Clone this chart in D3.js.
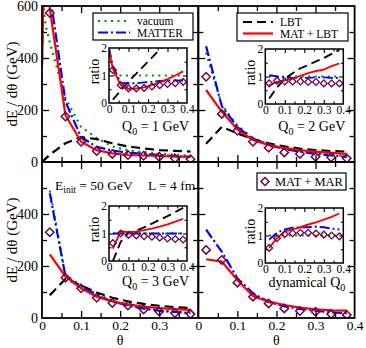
<!DOCTYPE html>
<html lang="en">
<head>
<meta charset="UTF-8">
<title>dE/dtheta with ratio insets</title>
<script src="https://cdn.jsdelivr.net/npm/d3@7"></script>
<style>
  body { margin: 0; background: #fff; }
  svg { display: block; }
  svg text { font-family: "Liberation Serif", "DejaVu Serif", serif !important; }
</style>
</head>
<body>
<svg id="chart" width="366" height="348"></svg>
<script>
// theta bins (centres) shared by every panel
const thetas = [0.02, 0.06, 0.10, 0.14, 0.18, 0.22, 0.26, 0.30, 0.34, 0.38];
// the Q0 = 1 GeV curves also have points right at small angle
const thetasNearZero = [0, 0.01];

// tick labels
const yTickLabelsTop = [0, 200, 400, 600];
const yTickLabelsBottom = [0, 200, 400];
const xTickLabelsLeft = [0, 0.1, 0.2, 0.3];
const xTickLabelsRight = [0, 0.1, 0.2, 0.3, 0.4];
const ratioTickLabels = [0, 1, 2];
const insetXTickLabels = [0, 0.1, 0.2, 0.3, 0.4];

// ---- Q0 = 1 GeV (top left)
const vacuum1 = [460, 245, 135, 92, 60, 45, 38, 33, 28, 24];
const matter1 = [650, 232, 96, 58, 44, 36, 31, 27, 23, 20];
const matLbt1 = [590, 180, 78, 45, 33, 27, 25, 23, 21, 20];
const lbt1 = [28, 72, 96, 88, 72, 60, 52, 46, 43, 40];
const matMar1 = [573, 175, 78, 42, 31, 27, 24, 20, 14, 11];
const vacuum1Near0 = [640, 520];
const matter1Near0 = [380, 1200];
const matLbt1Near0 = [370, 1100];
const lbt1Near0 = [0, 14];
const vacuumRatio1 = [1, 1, 1, 1, 1, 1, 1, 1, 1, 1];
const matterRatio1 = [1.35, 0.72, 0.72, 0.72, 0.75, 0.77, 0.8, 0.82, 0.82, 0.82];
const matLbtRatio1 = [1.25, 0.65, 0.52, 0.53, 0.57, 0.65, 0.75, 0.87, 1.0, 1.15];
const lbtRatio1 = [0.12, 0.45, 0.78, 1.07, 1.36, 1.65, 1.95, 2.25, 2.5, 2.8];
const matMarRatio1 = [1.2, 0.65, 0.53, 0.53, 0.55, 0.6, 0.65, 0.69, 0.72, 0.77];
const matterRatio1Near0 = [2.0];
const matLbtRatio1Near0 = [1.9];

// ---- Q0 = 2 GeV (top right)
const vacuum2 = [420, 220, 140, 92, 68, 52, 42, 34, 28, 22];
const matter2 = [445, 215, 135, 88, 65, 50, 40, 31, 25, 20];
const matLbt2 = [277, 194, 125, 85, 65, 54, 46, 40, 35, 31];
const lbt2 = [70, 135, 110, 88, 72, 60, 52, 46, 42, 40];
const matMar2 = [328, 185, 120, 78, 55, 37, 31, 20, 18, 14];
const vacuumRatio2 = [1, 1, 1, 1, 1, 1, 1, 1, 1, 1];
const matterRatio2 = [1.05, 1.0, 0.95, 0.95, 0.95, 0.95, 0.97, 0.97, 0.95, 0.95];
const matLbtRatio2 = [0.68, 0.8, 0.86, 0.93, 1.02, 1.12, 1.2, 1.25, 1.38, 1.48];
const lbtRatio2 = [0.2, 0.6, 0.92, 1.12, 1.3, 1.42, 1.55, 1.67, 1.82, 1.97];
const matMarRatio2 = [0.75, 0.85, 0.82, 0.82, 0.82, 0.8, 0.8, 0.75, 0.75, 0.75];

// ---- Q0 = 3 GeV (bottom left)
const vacuum3 = [490, 165, 125, 92, 66, 50, 38, 30, 24, 20];
const matter3 = [480, 160, 120, 88, 63, 48, 36, 28, 23, 19];
const matLbt3 = [245, 160, 114, 82, 64, 53, 44, 38, 34, 31];
const lbt3 = [88, 150, 125, 98, 78, 64, 54, 47, 42, 38];
const matMar3 = [330, 155, 114, 78, 58, 48, 33, 25, 19, 15];
const vacuumRatio3 = [1, 1, 1, 1, 1, 1, 1, 1, 1, 1];
const matterRatio3 = [1.0, 1.0, 1.0, 1.0, 1.0, 1.0, 1.0, 1.0, 1.0, 1.0];
const matLbtRatio3 = [0.45, 1.08, 1.05, 1.07, 1.12, 1.18, 1.25, 1.33, 1.43, 1.53];
const lbtRatio3 = [0.0, 0.7, 1.02, 1.1, 1.22, 1.36, 1.5, 1.63, 1.78, 1.93];
const matMarRatio3 = [0.65, 1.0, 0.95, 0.93, 0.9, 0.88, 0.85, 0.82, 0.8, 0.78];

// ---- dynamical Q0 (bottom right)
const matter4 = [340, 255, 153, 95, 62, 45, 35, 28, 22, 18];
const matLbt4 = [226, 217, 146, 84, 63, 50, 40, 33, 29, 28];
const matMar4 = [262, 223, 136, 82, 56, 37, 27, 24, 15, 12];
const vacuumRatio4 = [1, 1, 1, 1, 1, 1, 1, 1, 1, 1];
const matterRatio4 = [0.85, 1.1, 1.22, 1.28, 1.3, 1.3, 1.32, 1.3, 1.25, 1.22];
const matLbtRatio4 = [0.55, 0.9, 1.15, 1.22, 1.3, 1.4, 1.48, 1.58, 1.68, 1.8];
const matMarRatio4 = [0.55, 0.9, 1.05, 1.08, 1.1, 1.1, 1.07, 1.03, 1.0, 0.97];

// ---------------------------------------------------------------
const plotLeft = 42, plotTop = 6, panelW = 156.3, panelH = 156;
const insetDx = 67, insetW = 78, insetH = 55;
const marColor = "rgb(103,7,72)";

const styles = {
  vac:    { stroke: "#009000", width: 2.2, dash: "2,4.5" },
  mat:    { stroke: "#0000ff", width: 2.2, dash: "10,3,2,3" },
  lbt:    { stroke: "#000",    width: 2.2, dash: "9,5" },
  matlbt: { stroke: "#ff0000", width: 2.2, dash: null }
};
const drawOrder = ["vac", "lbt", "mat", "matlbt"];

const s = (key, xs, ys) => ({ key, pts: xs.map((t, i) => [t, ys[i]]) });

const panels = [
  { col: 0, row: 0, insetTop: 42, labelDy: 28,
    q0: ["Q", "0", " = 1 GeV"],
    lines: [s("vac", thetasNearZero.concat(thetas), vacuum1Near0.concat(vacuum1)),
            s("lbt", thetasNearZero.concat(thetas), lbt1Near0.concat(lbt1)),
            s("mat", thetasNearZero.concat(thetas), matter1Near0.concat(matter1)),
            s("matlbt", thetasNearZero.concat(thetas), matLbt1Near0.concat(matLbt1))],
    marks: matMar1,
    ratios: [s("vac", thetas, vacuumRatio1), s("lbt", thetas, lbtRatio1),
             s("mat", [0].concat(thetas), matterRatio1Near0.concat(matterRatio1)),
             s("matlbt", [0].concat(thetas), matLbtRatio1Near0.concat(matLbtRatio1))],
    ratioMarks: matMarRatio1 },
  { col: 1, row: 0, insetTop: 43, labelDy: 27,
    q0: ["Q", "0", " = 2 GeV"],
    lines: [s("vac", thetas, vacuum2), s("lbt", thetas, lbt2),
            s("mat", thetas, matter2), s("matlbt", thetas, matLbt2)],
    marks: matMar2,
    ratios: [s("vac", thetas, vacuumRatio2), s("lbt", thetas, lbtRatio2),
             s("mat", thetas, matterRatio2), s("matlbt", thetas, matLbtRatio2)],
    ratioMarks: matMarRatio2 },
  { col: 0, row: 1, insetTop: 44, labelDy: 25,
    q0: ["Q", "0", " = 3 GeV"],
    lines: [s("vac", thetas, vacuum3), s("lbt", thetas, lbt3),
            s("mat", thetas, matter3), s("matlbt", thetas, matLbt3)],
    marks: matMar3,
    ratios: [s("vac", thetas, vacuumRatio3), s("lbt", thetas, lbtRatio3),
             s("mat", thetas, matterRatio3), s("matlbt", thetas, matLbtRatio3)],
    ratioMarks: matMarRatio3 },
  { col: 1, row: 1, insetTop: 46, labelDy: 24,
    q0: ["dynamical Q", "0", ""],
    lines: [s("mat", thetas, matter4), s("matlbt", thetas, matLbt4)],
    marks: matMar4,
    ratios: [s("vac", thetas, vacuumRatio4),
             s("mat", thetas, matterRatio4), s("matlbt", thetas, matLbtRatio4)],
    ratioMarks: matMarRatio4 }
];

const svg = d3.select("#chart");
const defs = svg.append("defs");

function diamond(g, cx, cy, r, sw) {
  g.append("path")
    .attr("d", `M${cx},${cy - r}L${cx + r},${cy}L${cx},${cy + r}L${cx - r},${cy}Z`)
    .attr("fill", "none").attr("stroke", marColor).attr("stroke-width", sw);
}

// inward ticks through d3 axes
function ticks(g, axis, values, size, sw) {
  g.call(axis.tickValues(values).tickSize(-size).tickSizeOuter(0).tickFormat(""));
  g.select(".domain").remove();
  g.selectAll("line").attr("stroke", "#000").attr("stroke-width", sw);
}

function labels(g, axis, values, fmt, size, pad) {
  g.call(axis.tickValues(values).tickSize(0).tickPadding(pad).tickFormat(fmt));
  g.select(".domain").remove();
  g.selectAll("text").attr("font-size", size).attr("fill", "#000");
}

const fmtTheta = d => d === 0 ? "0" : d.toFixed(1);

function drawLines(g, data, x, y, scaleW) {
  const line = d3.line().x(d => x(d[0])).y(d => y(d[1]));
  drawOrder.forEach(k => {
    const ser = data.find(d => d.key === k);
    if (!ser) return;
    const st = styles[k];
    g.append("path").attr("d", line(ser.pts))
      .attr("fill", "none").attr("stroke", st.stroke)
      .attr("stroke-width", st.width * scaleW)
      .attr("stroke-dasharray", st.dash);
  });
}

panels.forEach((p, i) => {
  const x0 = plotLeft + p.col * panelW, y0 = plotTop + p.row * panelH;
  const x = d3.scaleLinear().domain([0, 0.4]).range([x0, x0 + panelW]);
  const y = d3.scaleLinear().domain([0, 600]).range([y0 + panelH, y0]);

  defs.append("clipPath").attr("id", "clip" + i).append("rect")
    .attr("x", x0).attr("y", y0).attr("width", panelW).attr("height", panelH);

  const body = svg.append("g").attr("clip-path", `url(#clip${i})`);
  drawLines(body, p.lines, x, y, 1);
  thetas.forEach((t, j) => diamond(body, x(t), y(p.marks[j]), 4.2, 1.5));

  // ticks on all four sides
  [[d3.axisBottom(x), `translate(0,${y0 + panelH})`], [d3.axisTop(x), `translate(0,${y0})`]].forEach(([ax, tr]) => {
    ticks(svg.append("g").attr("transform", tr), ax, [0.1, 0.2, 0.3], 7, 1.3);
    ticks(svg.append("g").attr("transform", tr), ax, [0.05, 0.15, 0.25, 0.35], 5, 1.3);
  });
  [[d3.axisLeft(y), `translate(${x0},0)`], [d3.axisRight(y), `translate(${x0 + panelW},0)`]].forEach(([ax, tr]) => {
    ticks(svg.append("g").attr("transform", tr), ax, [200, 400], 7, 1.3);
    ticks(svg.append("g").attr("transform", tr), ax, [100, 300, 500], 5, 1.3);
  });

  svg.append("rect").attr("x", x0).attr("y", y0).attr("width", panelW).attr("height", panelH)
    .attr("fill", "none").attr("stroke", "#000").attr("stroke-width", 1.8);

  if (p.col === 0) {
    labels(svg.append("g").attr("transform", `translate(${x0},0)`), d3.axisLeft(y),
      p.row === 0 ? yTickLabelsTop : yTickLabelsBottom, d3.format("d"), 14, 4);
    svg.append("text")
      .attr("transform", `translate(17,${y0 + panelH / 2}) rotate(-90)`)
      .attr("text-anchor", "middle").attr("font-size", 15)
      .text("dE / dθ (GeV)");
  }
  if (p.row === 1) {
    labels(svg.append("g").attr("transform", `translate(0,${y0 + panelH})`), d3.axisBottom(x),
      p.col === 0 ? xTickLabelsLeft : xTickLabelsRight, fmtTheta, 13.5, 2);
    svg.append("text").attr("x", x0 + panelW / 2).attr("y", 345)
      .attr("text-anchor", "middle").attr("font-size", 14).text("θ");
  }

  // ---- inset with ratios
  const ix0 = x0 + insetDx, iy0 = y0 + p.insetTop;
  const ix = d3.scaleLinear().domain([0, 0.4]).range([ix0, ix0 + insetW]);
  const iy = d3.scaleLinear().domain([0, 2]).range([iy0 + insetH, iy0]);

  svg.append("rect").attr("x", ix0).attr("y", iy0).attr("width", insetW).attr("height", insetH)
    .attr("fill", "#fff");
  defs.append("clipPath").attr("id", "iclip" + i).append("rect")
    .attr("x", ix0).attr("y", iy0).attr("width", insetW).attr("height", insetH);
  const ib = svg.append("g").attr("clip-path", `url(#iclip${i})`);
  drawLines(ib, p.ratios, ix, iy, 0.85);
  thetas.forEach((t, j) => diamond(ib, ix(t), iy(p.ratioMarks[j]), 3.4, 1.3));

  [[d3.axisBottom(ix), `translate(0,${iy0 + insetH})`], [d3.axisTop(ix), `translate(0,${iy0})`]].forEach(([ax, tr]) => {
    ticks(svg.append("g").attr("transform", tr), ax, [0.1, 0.2, 0.3], 4, 1.1);
    ticks(svg.append("g").attr("transform", tr), ax, [0.05, 0.15, 0.25, 0.35], 2.5, 1.1);
  });
  [[d3.axisLeft(iy), `translate(${ix0},0)`], [d3.axisRight(iy), `translate(${ix0 + insetW},0)`]].forEach(([ax, tr]) => {
    ticks(svg.append("g").attr("transform", tr), ax, [1], 4, 1.1);
    ticks(svg.append("g").attr("transform", tr), ax, [0.5, 1.5], 2.5, 1.1);
  });
  svg.append("rect").attr("x", ix0).attr("y", iy0).attr("width", insetW).attr("height", insetH)
    .attr("fill", "none").attr("stroke", "#000").attr("stroke-width", 1.5);

  labels(svg.append("g").attr("transform", `translate(${ix0},0)`), d3.axisLeft(iy),
    ratioTickLabels, d3.format("d"), 11.5, 2);
  labels(svg.append("g").attr("transform", `translate(0,${iy0 + insetH})`), d3.axisBottom(ix),
    insetXTickLabels, fmtTheta, 11.5, 2);

  svg.append("text")
    .attr("transform", `translate(${ix0 - 10},${iy0 + insetH / 2 - 4}) rotate(-90)`)
    .attr("text-anchor", "middle").attr("font-size", 14).text("ratio");

  const q = svg.append("text").attr("x", ix0 + insetW + 2).attr("y", iy0 + insetH + p.labelDy)
    .attr("text-anchor", "end").attr("font-size", 14);
  q.append("tspan").text(p.q0[0]);
  q.append("tspan").attr("dy", 4).attr("font-size", 10).text(p.q0[1]);
  if (p.q0[2]) q.append("tspan").attr("dy", -4).text(p.q0[2]);
});

// ---- legends
function legendBox(bx, by, bw, bh) {
  svg.append("rect").attr("x", bx).attr("y", by).attr("width", bw).attr("height", bh)
    .attr("fill", "#fff").attr("stroke", "#000").attr("stroke-width", 1.2);
}
function legendRow(key, label, x1, x2, tx, ly) {
  const st = styles[key];
  svg.append("line").attr("x1", x1).attr("x2", x2).attr("y1", ly).attr("y2", ly)
    .attr("stroke", st.stroke).attr("stroke-width", st.width).attr("stroke-dasharray", st.dash);
  svg.append("text").attr("x", tx).attr("y", ly + 4).attr("font-size", 11.5).text(label);
}

legendBox(93, 13, 100, 27);
legendRow("vac", "vacuum", 98, 130, 137, 21);
legendRow("mat", "MATTER", 98, 130, 137, 32.5);

legendBox(237, 13, 111, 28);
legendRow("lbt", "LBT", 243, 273, 280, 22);
legendRow("matlbt", "MAT + LBT", 243, 273, 280, 33.5);

legendBox(257, 173, 89, 17);
diamond(svg, 265, 181.5, 4, 1.5);
svg.append("text").attr("x", 275).attr("y", 186).attr("font-size", 12.5).text("MAT + MAR");

// ---- run parameters
const ep = svg.append("text").attr("x", 55).attr("y", 189.5).attr("font-size", 13.5);
ep.append("tspan").text("E");
ep.append("tspan").attr("dy", 3.5).attr("font-size", 9.5).text("init");
ep.append("tspan").attr("dy", -3.5).text(" = 50 GeV");
svg.append("text").attr("x", 148).attr("y", 189.5).attr("font-size", 13.5).text("L = 4 fm");
</script>
</body>
</html>
